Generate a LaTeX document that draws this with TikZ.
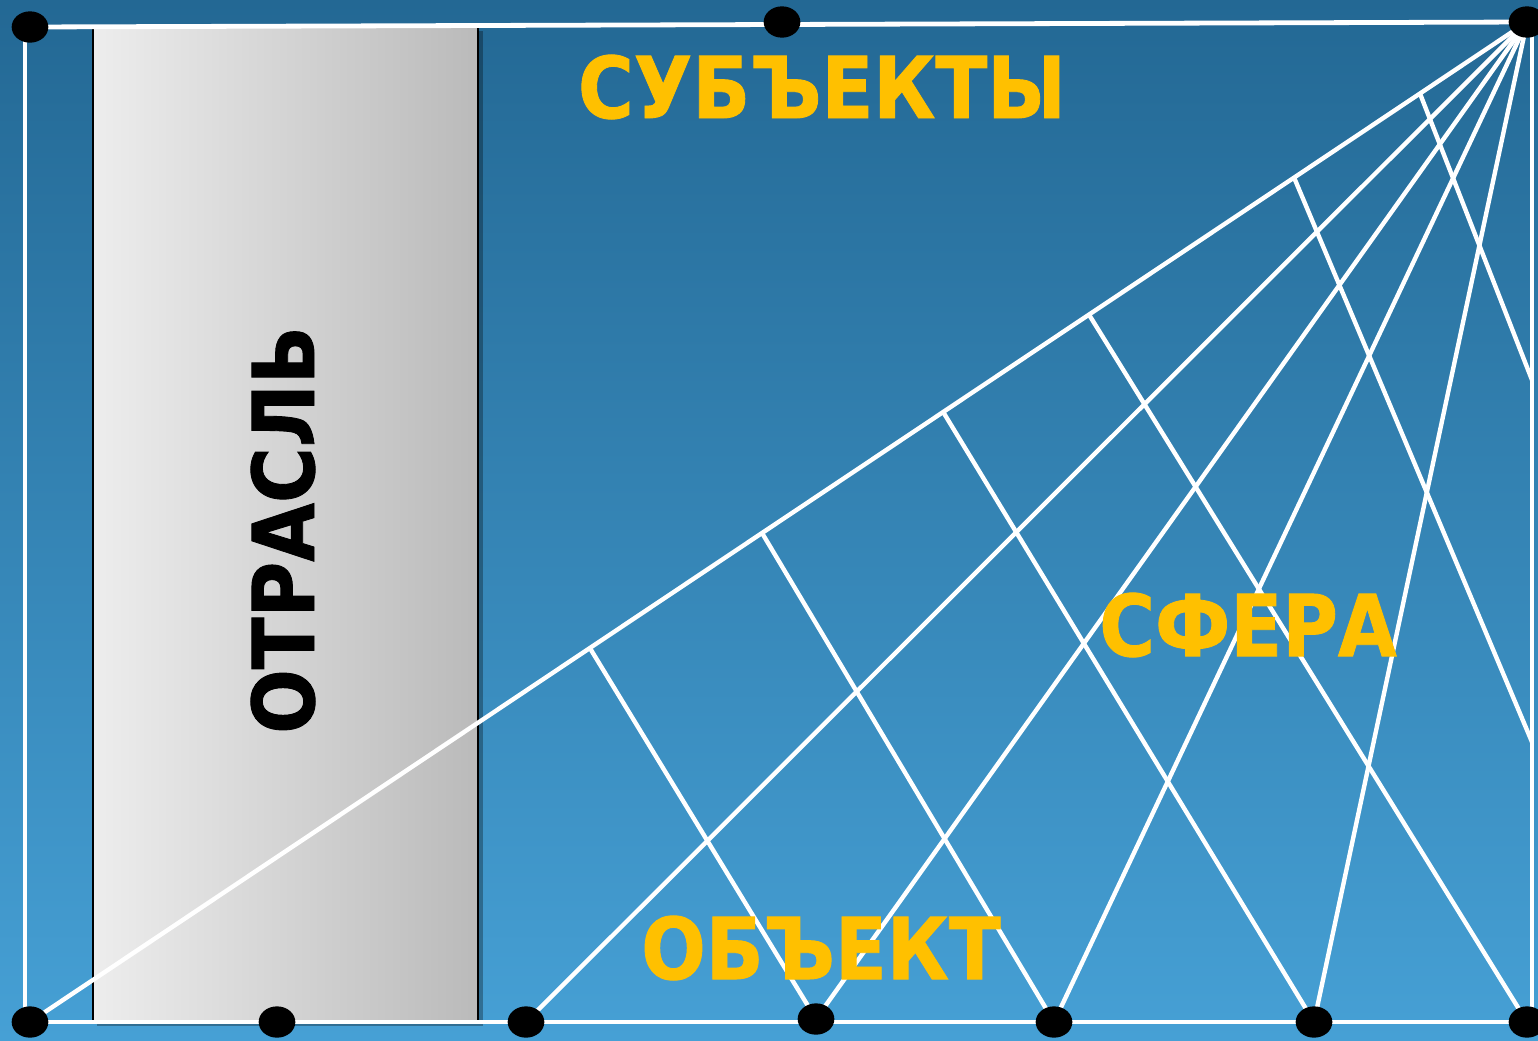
\documentclass[tikz,border=0pt]{standalone}
\usepackage{fontspec}
\setmainfont{DejaVu Sans}
\newfontfamily\condfont[FakeStretch=0.89,FakeBold=1]{DejaVu Sans}
\usetikzlibrary{shapes.geometric,calc}
\definecolor{bgtop}{RGB}{35,104,148}
\definecolor{bgbot}{RGB}{70,160,213}
\definecolor{gold}{HTML}{FFC000}
\tikzset{
  wline/.style={white,line width=3.3pt},
  frameline/.style={white,line width=3.6pt},
  dot/.style={ellipse,fill=black,inner sep=0pt,minimum width=27.5pt,minimum height=23.5pt},
  bigtext/.style={text=gold,font=\condfont\fontsize{64}{70}\selectfont\bfseries,inner sep=0pt},
}
\begin{document}
\begin{tikzpicture}[x=0.75pt,y=-0.75pt]
\useasboundingbox (0,0) rectangle (1538,1040);
\shade[top color=bgtop,bottom color=bgbot] (0,0) rectangle (1538,1040);
% shadow and gray column
\fill[black,opacity=0.3] (97,31) rectangle (483,1026);
\shade[left color=black!7,right color=black!27,draw=black,line width=0.8pt] (93,27) rectangle (478,1021);
\node[rotate=90,font=\condfont\fontsize{64}{70}\selectfont\bfseries,inner sep=0pt] (otr) at (283,530) {ОТРАСЛЬ};
% points
\coordinate (TL) at (30,27);
\coordinate (TM) at (782,22);
\coordinate (TR) at (1527,22);
\coordinate (BL) at (30,1022);
\coordinate (B1) at (277,1022);
\coordinate (B2) at (526,1022);
\coordinate (B3) at (816,1019);
\coordinate (B4) at (1054,1022);
\coordinate (B5) at (1314,1022);
\coordinate (BR) at (1527,1022);
\coordinate (R1) at (1532,380);
\coordinate (R2) at (1532,742);
\coordinate (LT) at (25,27);
\coordinate (LB) at (25,1022);
\coordinate (RT) at (1532,22);
\coordinate (RB) at (1532,1022);
\coordinate (A1) at ($(BL)!0.374!(TR)$);
\coordinate (A2) at ($(BL)!0.489!(TR)$);
\coordinate (A3) at ($(BL)!0.610!(TR)$);
\coordinate (A4) at ($(BL)!0.7074!(TR)$);
\coordinate (A5) at ($(BL)!0.8444!(TR)$);
\coordinate (A6) at ($(BL)!0.9285!(TR)$);
% frame
\draw[frameline] (TL) -- (TR);
\draw[frameline] (BL) -- (BR);
\draw[frameline] (LT) -- (LB);
\draw[frameline] (RT) -- (RB);
% fan lines
\draw[wline] (TR) -- (BL);
\draw[wline] (TR) -- (B2);
\draw[wline] (TR) -- (B3);
\draw[wline] (TR) -- (B4);
\draw[wline] (TR) -- (B5);
% cross lines
\draw[wline] (A1) -- (B3);
\draw[wline] (A2) -- (B4);
\draw[wline] (A3) -- (B5);
\draw[wline] (A4) -- (BR);
\draw[wline] (A5) -- (R2);
\draw[wline] (A6) -- (R1);
% dots
\foreach \p in {TL,TM,TR,BL,B1,B2,B3,B4,B5,BR}
  \node[dot] (d\p) at (\p) {};
% labels
\node[bigtext] (subj) at (822,87) {СУБЪЕКТЫ};
\node[bigtext] (sfera) at (1248,625) {СФЕРА};
\node[bigtext] (obj) at (821,948) {ОБЪЕКТ};
\end{tikzpicture}
\end{document}
